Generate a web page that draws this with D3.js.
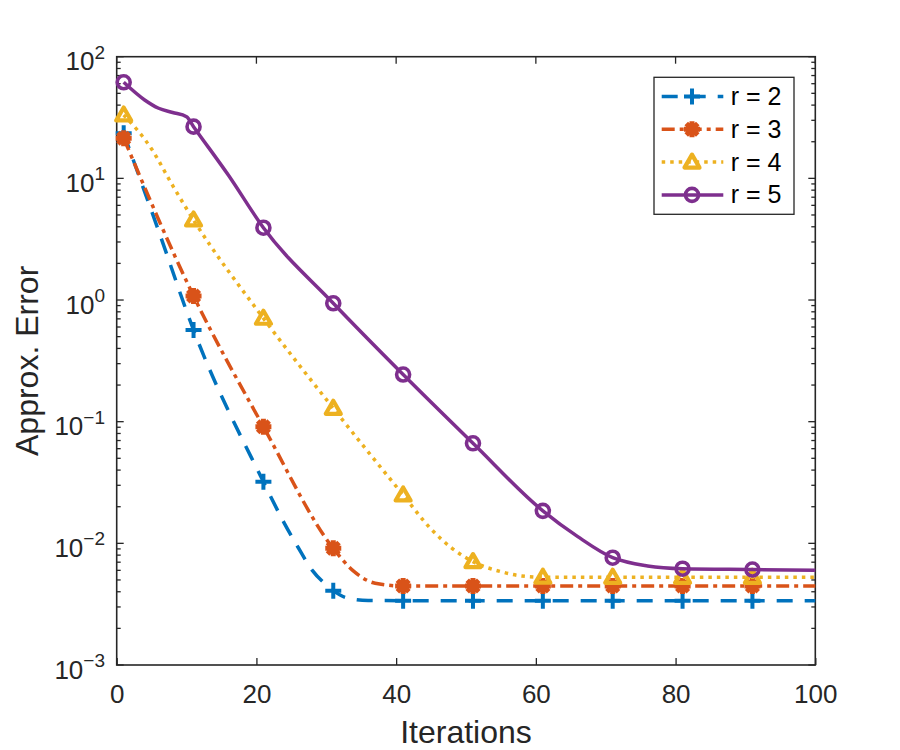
<!DOCTYPE html>
<html>
<head>
<meta charset="utf-8">
<script src="https://cdn.jsdelivr.net/npm/d3@7"></script>
<style>
  html, body { margin: 0; padding: 0; background: #fff; }
  svg { display: block; font-family: "Liberation Sans", Arial, Helvetica, sans-serif; }
</style>
</head>
<body>
<svg id="chart" width="900" height="750"></svg>
<script>
// values (iteration, approx. error)
const iters2 = [1, 6, 11, 21, 24, 26, 28, 30, 31, 33, 36, 41, 51, 61, 71, 81, 91, 100];
const err2 = [23.5, 3.7, 0.567, 0.0321, 0.0146, 0.0092, 0.0060, 0.00455, 0.00408, 0.00355, 0.00339,
  0.00338, 0.00338, 0.00338, 0.00338, 0.00338, 0.00338, 0.00338];

const iters3 = [1, 11, 21, 31, 34, 37, 41, 51, 61, 71, 81, 91, 100];
const err3 = [21.4, 1.08, 0.091, 0.0091, 0.00585, 0.0047, 0.00446, 0.00446, 0.00446, 0.00446,
  0.00446, 0.00446, 0.00446];

const iters4 = [1, 5, 8, 11, 21, 31, 41, 45, 48, 51, 55, 58, 61, 71, 81, 91, 100];
const err4 = [33.2, 17.4, 8.74, 4.55, 0.708, 0.1288, 0.025, 0.0131, 0.00911, 0.00707, 0.00585,
  0.00539, 0.00527, 0.00526, 0.00526, 0.00526, 0.00526];

const iters5 = [1, 4, 6, 8, 10, 11, 16, 21, 31, 41, 51, 61, 66, 71, 76, 81, 91, 100];
const err5 = [61.6, 44.1, 37.7, 34.8, 32.1, 26.6, 10.6, 3.93, 0.94, 0.244, 0.0664, 0.0185,
  0.01135, 0.00762, 0.00652, 0.00619, 0.00609, 0.006];

const markerIters = [1, 11, 21, 31, 41, 51, 61, 71, 81, 91];
const seriesNames = ["r = 2", "r = 3", "r = 4", "r = 5"];
const xTicks = [0, 20, 40, 60, 80, 100];
const yExponents = [-3, -2, -1, 0, 1, 2];

// styling per series (MATLAB default colour order)
const styles = [
  { color: "#0072BD", dash: "16,12", marker: "plus" },
  { color: "#D95319", dash: "13,5,4,5", marker: "asterisk" },
  { color: "#EDB120", dash: "3.5,5", marker: "triangle" },
  { color: "#7E2F8E", dash: null, marker: "circle" }
];

const series = [
  [iters2, err2], [iters3, err3], [iters4, err4], [iters5, err5]
].map(([xs, ys], i) => ({
  name: seriesNames[i],
  points: xs.map((x, j) => ({ x, v: ys[j] })),
  ...styles[i]
}));

const axisColor = "#262626";
const plotLeft = 116.7, plotRight = 815.3, plotTop = 56.7, plotBottom = 665;

const svg = d3.select("#chart");

const x = d3.scaleLinear().domain([0, 100]).range([plotLeft, plotRight]);
const y = d3.scaleLog().domain([1e-3, 1e2]).range([plotBottom, plotTop]);

// axes background
svg.append("rect")
  .attr("x", plotLeft).attr("y", plotTop)
  .attr("width", plotRight - plotLeft).attr("height", plotBottom - plotTop)
  .attr("fill", "#fff");

// x ticks (bottom and top, pointing inward)
const xAxis = svg.append("g")
  .attr("transform", `translate(0,${plotBottom})`)
  .call(d3.axisBottom(x).tickValues(xTicks).tickSizeInner(-7).tickSizeOuter(0).tickPadding(19.5));
xAxis.select(".domain").remove();
xAxis.selectAll("line").attr("stroke", axisColor).attr("stroke-width", 1.3);
xAxis.selectAll("text")
  .attr("fill", axisColor)
  .style("font-size", "26px")
  .style("font-family", "'Liberation Sans', Arial, Helvetica, sans-serif");

svg.append("g")
  .selectAll("line")
  .data(xTicks)
  .join("line")
  .attr("x1", (d) => x(d)).attr("x2", (d) => x(d))
  .attr("y1", plotTop).attr("y2", plotTop + 7)
  .attr("stroke", axisColor).attr("stroke-width", 1.3);

// y ticks: major at each decade, minor at 2..9
const majorY = yExponents.map((e) => Math.pow(10, e));
const minorY = [];
yExponents.slice(0, -1).forEach((e) => {
  for (let k = 2; k <= 9; k++) minorY.push(k * Math.pow(10, e));
});

const yTickG = svg.append("g");
[[majorY, 7], [minorY, 4]].forEach(([vals, len]) => {
  yTickG.append("g").selectAll("line")
    .data(vals)
    .join("line")
    .attr("x1", plotLeft).attr("x2", plotLeft + len)
    .attr("y1", (d) => y(d)).attr("y2", (d) => y(d))
    .attr("stroke", axisColor).attr("stroke-width", 1.3);
  yTickG.append("g").selectAll("line")
    .data(vals)
    .join("line")
    .attr("x1", plotRight - len).attr("x2", plotRight)
    .attr("y1", (d) => y(d)).attr("y2", (d) => y(d))
    .attr("stroke", axisColor).attr("stroke-width", 1.3);
});

// y tick labels as 10^n
const yLabels = svg.append("g")
  .selectAll("text")
  .data(yExponents)
  .join("text")
  .attr("x", 105)
  .attr("y", (e) => y(Math.pow(10, e)) + 13.5)
  .attr("text-anchor", "end")
  .attr("fill", axisColor);
yLabels.append("tspan").style("font-size", "26px").text("10");
yLabels.append("tspan")
  .style("font-size", "19px")
  .attr("dy", -11.5)
  .text((e) => String(e).replace("-", "\u2212"));

// box outline
svg.append("rect")
  .attr("x", plotLeft).attr("y", plotTop)
  .attr("width", plotRight - plotLeft).attr("height", plotBottom - plotTop)
  .attr("fill", "none")
  .attr("stroke", axisColor)
  .attr("stroke-width", 1.6);

// axis titles
svg.append("text")
  .attr("x", (plotLeft + plotRight) / 2).attr("y", 743)
  .attr("text-anchor", "middle")
  .attr("fill", axisColor)
  .style("font-size", "32px")
  .text("Iterations");

svg.append("text")
  .attr("transform", `translate(38,${(plotTop + plotBottom) / 2}) rotate(-90)`)
  .attr("text-anchor", "middle")
  .attr("fill", axisColor)
  .style("font-size", "32px")
  .text("Approx. Error");

// marker shapes (thick strokes, like MATLAB's chunky markers)
function drawMarker(g, type, cx, cy, color) {
  const s = 8;
  let d;
  let w = 4;
  if (type === "plus") {
    d = `M${cx - s},${cy}H${cx + s}M${cx},${cy - s}V${cy + s}`;
  } else if (type === "asterisk") {
    const t = s * 0.72;
    d = `M${cx - s},${cy}H${cx + s}M${cx},${cy - s}V${cy + s}` +
      `M${cx - t},${cy - t}L${cx + t},${cy + t}M${cx - t},${cy + t}L${cx + t},${cy - t}`;
    w = 5;
  } else if (type === "triangle") {
    d = `M${cx},${cy - 7.5}L${cx + 7.5},${cy + 5.5}L${cx - 7.5},${cy + 5.5}Z`;
    w = 4.2;
  }
  if (type === "circle") {
    g.append("circle")
      .attr("cx", cx).attr("cy", cy).attr("r", 6.5)
      .attr("fill", "none").attr("stroke", color).attr("stroke-width", 3.6);
  } else {
    g.append("path")
      .attr("d", d)
      .attr("fill", "none")
      .attr("stroke", color)
      .attr("stroke-width", w)
      .attr("stroke-linejoin", "round");
  }
}

const line = d3.line()
  .curve(d3.curveMonotoneX)
  .x((d) => x(d.x))
  .y((d) => y(d.v));

// series lines + markers
series.forEach((s) => {
  const g = svg.append("g");
  g.append("path")
    .datum(s.points)
    .attr("fill", "none")
    .attr("stroke", s.color)
    .attr("stroke-width", 3.5)
    .attr("stroke-dasharray", s.dash)
    .attr("d", line);
  s.points
    .filter((p) => markerIters.includes(p.x))
    .forEach((p) => drawMarker(g, s.marker, x(p.x), y(p.v), s.color));
});

// legend
const legend = svg.append("g");
legend.append("rect")
  .attr("x", 654).attr("y", 77.3)
  .attr("width", 140).attr("height", 137)
  .attr("fill", "#fff")
  .attr("stroke", axisColor)
  .attr("stroke-width", 1.3);

series.forEach((s, i) => {
  const ly = 96.5 + i * 32.8;
  legend.append("line")
    .attr("x1", 661.7).attr("x2", 723.3)
    .attr("y1", ly).attr("y2", ly)
    .attr("stroke", s.color)
    .attr("stroke-width", 3.5)
    .attr("stroke-dasharray", s.dash);
  drawMarker(legend, s.marker, 692, ly, s.color);
  legend.append("text")
    .attr("x", 730.7).attr("y", ly + 8.5)
    .attr("fill", "#000")
    .style("font-size", "25px")
    .text(s.name);
});
</script>
</body>
</html>
